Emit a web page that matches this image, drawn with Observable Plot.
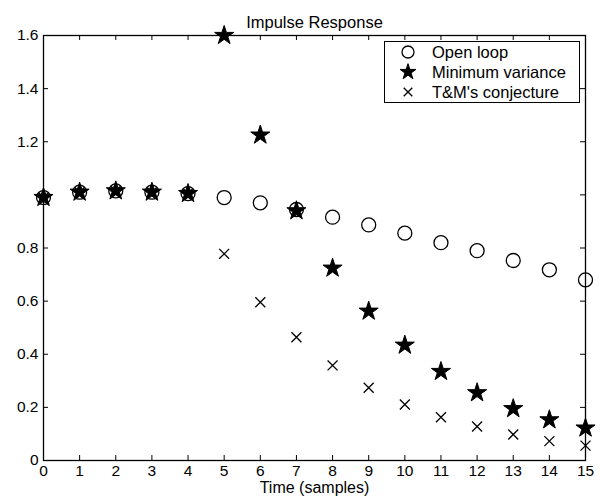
<!DOCTYPE html>
<html><head><meta charset="utf-8">
<script src="https://cdn.jsdelivr.net/npm/d3@7"></script>
<script src="https://cdn.jsdelivr.net/npm/@observablehq/plot@0.6"></script>
<style>
body{margin:0;background:#fff;}
#chart{position:relative;width:600px;height:501px;font-family:"Liberation Sans",Arial,Helvetica,sans-serif;color:#000;}
#legend{position:absolute;left:384px;top:41px;width:194px;height:60px;border:1.3px solid #000;background:#fff;font-size:16.5px;}
.row{position:absolute;left:0;height:20px;display:flex;align-items:center;white-space:nowrap;}
.row svg{margin-left:13px;margin-right:14px;}
</style>
</head><body>
<div id="chart"></div>
<script>
const title = "Impulse Response";
const xLabel = "Time (samples)";
const seriesNames = ["Open loop", "Minimum variance", "T&M's conjecture"];
const time = [0,1,2,3,4,5,6,7,8,9,10,11,12,13,14,15];
const openLoop = [0.99,1.01,1.015,1.01,1.005,0.99,0.97,0.945,0.916,0.887,0.856,0.82,0.79,0.753,0.718,0.68];
const minVariance = [0.99,1.01,1.015,1.01,1.005,1.6,1.225,0.94,0.724,0.562,0.434,0.335,0.255,0.195,0.153,0.122];
const tmConjecture = [0.99,1.01,1.015,1.01,1.005,0.778,0.596,0.464,0.358,0.274,0.211,0.163,0.128,0.098,0.073,0.056];
const xTicks = [0,1,2,3,4,5,6,7,8,9,10,11,12,13,14,15];
const yTicks = [0,0.2,0.4,0.6,0.8,1.0,1.2,1.4,1.6];
const yTickLabels = ["0","0.2","0.4","0.6","0.8","","1.2","1.4","1.6"];

const rows = time.map((t,i)=>({t, open: openLoop[i], mv: minVariance[i], tm: tmConjecture[i]}));
const yLabelMap = new Map(yTicks.map((v,i)=>[v, yTickLabels[i]]));

const W = 600, H = 501, mL = 43, mR = 15, mT = 35, mB = 41;
const fw = W - mL - mR, fh = H - mT - mB, tl = 5;

const chart = Plot.plot({
  width: W, height: H,
  marginLeft: mL, marginRight: mR, marginTop: mT, marginBottom: mB,
  style: {fontFamily: '"Liberation Sans",Arial,Helvetica,sans-serif', fontSize: "15.5px", background: "white", color: "black", overflow: "visible"},
  x: {domain: [0, 15]},
  y: {domain: [0, 1.6]},
  marks: [
    Plot.axisX(xTicks, {tickSize: 0, tickPadding: 4, tickFormat: d => String(d), label: null}),
    Plot.axisY(yTicks, {tickSize: 0, tickPadding: 5, tickFormat: d => yLabelMap.get(d), label: null}),
    Plot.tickX(xTicks, {x: d => d, insetTop: fh - tl, stroke: "black"}),
    Plot.tickX(xTicks, {x: d => d, insetBottom: fh - tl, stroke: "black"}),
    Plot.tickY(yTicks, {y: d => d, insetRight: fw - tl, stroke: "black"}),
    Plot.tickY(yTicks, {y: d => d, insetLeft: fw - tl, stroke: "black"}),
    Plot.frame({stroke: "black", strokeWidth: 1.3}),
    Plot.dot(rows, {x: "t", y: "open", symbol: "circle", r: 7, stroke: "black", strokeWidth: 1.3, fill: "none"}),
    Plot.dot(rows, {x: "t", y: "mv", symbol: "star", r: 6, fill: "black", stroke: "black", strokeWidth: 1}),
    Plot.dot(rows, {x: "t", y: "tm", symbol: "times", r: 4.6, stroke: "black", strokeWidth: 1.3}),
    Plot.text([title], {text: d => d, frameAnchor: "top", dy: -19, fontSize: 16.5}),
    Plot.text([xLabel], {text: d => d, frameAnchor: "bottom", dy: 32, fontSize: 16})
  ]
});
const container = document.getElementById("chart");
container.appendChild(chart);

// legend
const legend = document.createElement("div");
legend.id = "legend";
const syms = [
  {type: d3.symbolCircle, size: Math.PI * 6 * 6, fill: "none", sw: 1.3},
  {type: d3.symbolStar, size: Math.PI * 5 * 5, fill: "black", sw: 1},
  {type: d3.symbolTimes, size: Math.PI * 4 * 4, fill: "none", sw: 1.3}
];
seriesNames.forEach((name, i) => {
  const row = document.createElement("div");
  row.className = "row";
  row.style.top = (i * 20 + 0) + "px";
  const s = syms[i];
  const path = d3.symbol(s.type, s.size)();
  row.innerHTML = `<svg width="20" height="20" viewBox="-10 -10 20 20"><path d="${path}" fill="${s.fill}" stroke="black" stroke-width="${s.sw}"/></svg><span>${name.replace("&","&amp;")}</span>`;
  legend.appendChild(row);
});
container.appendChild(legend);
</script>
</body></html>
